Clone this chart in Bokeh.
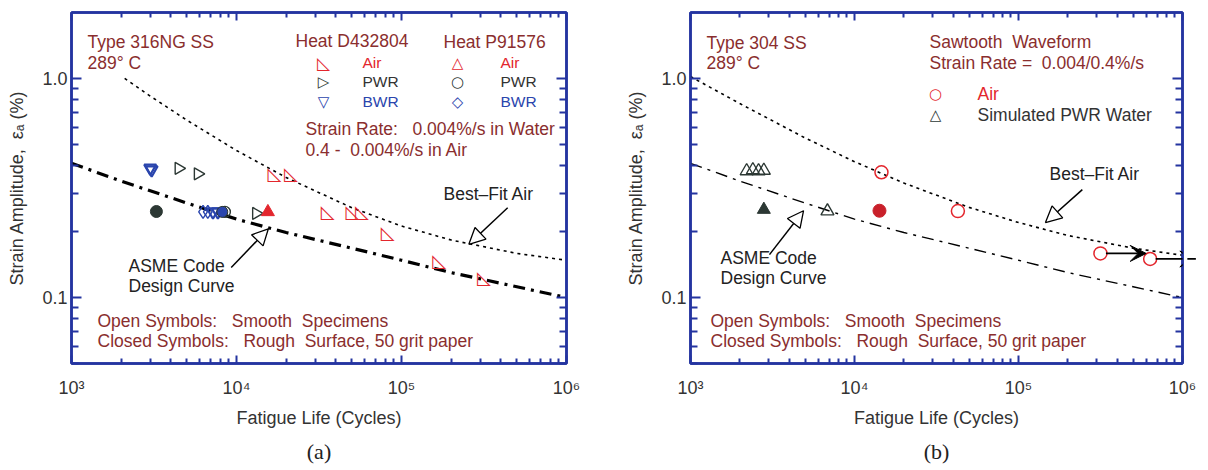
from bokeh.plotting import figure
from bokeh.models import (FixedTicker, LogAxis, Label, Arrow, NormalHead, VeeHead,
                          Range1d, ColumnDataSource, Title)
from bokeh.layouts import row
from bokeh.embed import file_html
from bokeh.resources import INLINE
from bokeh.core.properties import value

# ---------------- data ----------------
x_ticks = [1e3, 1e4, 1e5, 1e6]
x_tick_labels = ["10³", "10⁴", "10⁵", "10⁶"]
y_ticks = [0.1, 1.0]
y_tick_labels = ["0.1", "1.0"]

# ASME code design curve (same in both panels)
asme_N = [1000, 2000, 5000, 10000, 20000, 50000, 100000, 200000, 500000, 1000000]
asme_eps = [0.41, 0.34, 0.27, 0.228, 0.198, 0.168, 0.148, 0.130, 0.112, 0.100]

# Best-fit air curve, Type 316NG
fit316_N = [2100, 3000, 5000, 10000, 20000, 50000, 100000, 200000, 500000, 1000000]
fit316_eps = [1.0, 0.831, 0.645, 0.469, 0.353, 0.257, 0.212, 0.183, 0.159, 0.148]

# Best-fit air curve, Type 304
fit304_N = [1000, 2000, 5000, 10000, 20000, 50000, 100000, 200000, 500000, 1000000]
fit304_eps = [1.02, 0.768, 0.535, 0.417, 0.333, 0.258, 0.220, 0.192, 0.168, 0.156]

# Panel (a): Type 316NG SS
a_d_air_N = [17000, 21400, 35700, 50500, 57500, 82400, 169000, 316000]
a_d_air_eps = [0.367, 0.367, 0.247, 0.246, 0.246, 0.198, 0.147, 0.124]
a_d_pwr_N = [4460, 5830, 13150]
a_d_pwr_eps = [0.389, 0.367, 0.242]
a_d_bwr_N = [3000, 3060, 7200, 7710]
a_d_bwr_eps = [0.39, 0.383, 0.246, 0.246]
a_p_air_rough_N = [15500]
a_p_air_rough_eps = [0.246]
a_p_pwr_rough_N = [3270]
a_p_pwr_rough_eps = [0.247]
a_p_pwr_N = [8500]
a_p_pwr_eps = [0.246]
a_p_bwr_N = [6270, 6700]
a_p_bwr_eps = [0.246, 0.246]
a_p_bwr_rough_N = [8200]
a_p_bwr_rough_eps = [0.246]

# Panel (b): Type 304 SS
b_air_N = [14600, 42700, 316000, 635000]
b_air_eps = [0.373, 0.248, 0.159, 0.150]
b_air_rough_N = [14200]
b_air_rough_eps = [0.249]
b_pwr_N = [2200, 2400, 2600, 2800, 6840]
b_pwr_eps = [0.378, 0.382, 0.378, 0.380, 0.248]
b_pwr_rough_N = [2800]
b_pwr_rough_eps = [0.252]
b_runout_N = [316000, 635000]
b_runout_eps = [0.159, 0.150]

# ---------------- styles ----------------
FRAME_BLUE = "#2434a0"
TXT_RED = "#8a2e2e"
RED = "#e3262d"
DARK = "#2c3834"
MBLUE = "#2a45ad"
AXTXT = "#333333"
FONT = "Liberation Sans"
SYMF = "DejaVu Sans"
NB = "\u00a0"

H = 470
FR_A = dict(left=71, right=566, top=12, bottom=363, x0=0, w=604)
FR_B = dict(left=690, right=1182, top=12, bottom=363, x0=604, w=604)

x_minor = [k * t for t in (1e3, 1e4, 1e5) for k in range(2, 10)]
y_minor = [k * 0.01 for k in range(5, 10)] + [k * 0.1 for k in range(2, 10)]


def style_axis(ax, tin, min_in, show_labels):
    ax.axis_line_color = FRAME_BLUE
    ax.axis_line_width = 2.5
    ax.major_tick_line_color = FRAME_BLUE
    ax.major_tick_line_width = 2
    ax.minor_tick_line_color = FRAME_BLUE
    ax.minor_tick_line_width = 2
    ax.major_tick_in = tin
    ax.major_tick_out = 0
    ax.minor_tick_in = min_in
    ax.minor_tick_out = 0
    if show_labels:
        ax.major_label_text_font = FONT
        ax.major_label_text_font_size = "18px"
        ax.major_label_text_color = AXTXT
        ax.axis_label_text_font = FONT
        ax.axis_label_text_font_size = "18px"
        ax.axis_label_text_font_style = "normal"
        ax.axis_label_text_color = AXTXT
    else:
        ax.major_label_text_font_size = "1px"
        ax.major_label_text_alpha = 0
        ax.major_label_standoff = 0


def make_panel(fr, ylabel, caption, cap_offset):
    p = figure(width=fr["w"], height=H, x_axis_type="log", y_axis_type="log",
               x_range=Range1d(1e3, 1e6), y_range=Range1d(0.05, 2.0),
               output_backend="svg", toolbar_location=None,
               min_border_left=fr["left"] - fr["x0"],
               min_border_right=fr["x0"] + fr["w"] - fr["right"],
               min_border_top=fr["top"],
               min_border_bottom=H - fr["bottom"])
    p.grid.visible = False
    p.outline_line_color = FRAME_BLUE
    p.outline_line_width = 2.5
    xt = FixedTicker(ticks=x_ticks, minor_ticks=x_minor)
    yt = FixedTicker(ticks=y_ticks, minor_ticks=y_minor)
    xa = p.xaxis[0]
    ya = p.yaxis[0]
    xa.ticker = xt
    ya.ticker = yt
    xa.major_label_overrides = dict(zip(x_ticks, x_tick_labels))
    ya.major_label_overrides = dict(zip(y_ticks, y_tick_labels))
    style_axis(xa, 8, 5, True)
    style_axis(ya, 10, 7, True)
    xa.major_label_standoff = 14
    xa.axis_label_standoff = 7
    ya.major_label_standoff = 4
    ya.axis_label_standoff = 12
    xa.axis_label = "Fatigue Life (Cycles)"
    ya.axis_label = ylabel
    top = LogAxis(ticker=xt)
    right = LogAxis(ticker=yt)
    style_axis(top, 8, 5, False)
    style_axis(right, 10, 7, False)
    p.add_layout(top, "above")
    p.add_layout(right, "right")
    p.add_layout(Title(text=caption, align="center", offset=cap_offset, standoff=12,
                       text_font="Liberation Serif", text_font_size="22px",
                       text_font_style="normal", text_color="#222222"), "below")
    return p


def add_text(p, fr, px, py, text, color, size=17.5, font=FONT, align="left", style="normal"):
    p.add_layout(Label(x=px - fr["left"], y=fr["bottom"] - py, x_units="screen", y_units="screen",
                       text=text, text_color=color, text_font=font, text_font_size=f"{size}px",
                       text_align=align, text_baseline="middle", text_font_style=style))


def pointer(p, xs, ys, xe, ye):
    p.add_layout(Arrow(x_start=xs, y_start=ys, x_end=xe, y_end=ye, line_color="black", line_width=1.5,
                       end=NormalHead(size=16, fill_color="white", line_color="black", line_width=1.3)))


YLABEL = "Strain Amplitude," + NB + " εₐ (%)"
OPEN_TXT = "Open Symbols:" + NB + NB + " Smooth" + NB + " Specimens"
CLOSED_TXT = "Closed Symbols:" + NB + NB + " Rough" + NB + " Surface, 50 grit paper"

# ---------------- panel (a) ----------------
pa = make_panel(FR_A, YLABEL, "(a)", -7)
pa.line(fit316_N, fit316_eps, line_color="black", line_width=1.6, line_dash="3 4")
pa.line(asme_N, asme_eps, line_color="black", line_width=3.2, line_dash="12 6 3 6")

pa.text(a_d_air_N, a_d_air_eps, text=value("◺"), text_font=value(SYMF), text_font_size=value("18px"),
        text_color=RED, text_align="center", text_baseline="middle")
pa.scatter(a_d_pwr_N, a_d_pwr_eps, marker="triangle", angle=-1.5708, size=12, fill_color=None,
           line_color=DARK, line_width=1.4)
pa.scatter(a_d_bwr_N, a_d_bwr_eps, marker="inverted_triangle", size=12, fill_color=None,
           line_color=MBLUE, line_width=2.2)
pa.scatter(a_p_bwr_N, a_p_bwr_eps, marker="diamond", size=13, fill_color=None,
           line_color=MBLUE, line_width=1.4)
pa.scatter(a_p_pwr_N, a_p_pwr_eps, marker="circle", size=11, fill_color=None,
           line_color=DARK, line_width=1.4)
pa.scatter(a_p_bwr_rough_N, a_p_bwr_rough_eps, marker="circle", size=11, fill_color=MBLUE,
           line_color=DARK, line_width=1)
pa.scatter(a_p_pwr_rough_N, a_p_pwr_rough_eps, marker="circle", size=12, fill_color=DARK,
           line_color=DARK)
pa.scatter(a_p_air_rough_N, a_p_air_rough_eps, marker="triangle", size=13, fill_color=RED,
           line_color=RED)

add_text(pa, FR_A, 87, 41, "Type 316NG SS", TXT_RED)
add_text(pa, FR_A, 87, 62, "289° C", TXT_RED)
add_text(pa, FR_A, 295, 40, "Heat D432804", TXT_RED)
add_text(pa, FR_A, 443, 41, "Heat P91576", TXT_RED)
add_text(pa, FR_A, 323, 62, "◺", RED, 17, SYMF, "center")
add_text(pa, FR_A, 323, 81, "▷", DARK, 15, SYMF, "center")
add_text(pa, FR_A, 323, 101, "▽", MBLUE, 15, SYMF, "center", "bold")
add_text(pa, FR_A, 457, 62, "△", RED, 15, SYMF, "center")
add_text(pa, FR_A, 457, 81, "○", DARK, 15, SYMF, "center")
add_text(pa, FR_A, 457, 101, "◇", MBLUE, 15, SYMF, "center")
add_text(pa, FR_A, 362, 62, "Air", RED, 15.5)
add_text(pa, FR_A, 362, 81, "PWR", AXTXT, 15.5)
add_text(pa, FR_A, 362, 101, "BWR", MBLUE, 15.5)
add_text(pa, FR_A, 500, 62, "Air", RED, 15.5)
add_text(pa, FR_A, 500, 81, "PWR", AXTXT, 15.5)
add_text(pa, FR_A, 500, 101, "BWR", MBLUE, 15.5)
add_text(pa, FR_A, 305, 128, "Strain Rate:" + NB + NB + " 0.004%/s in Water", TXT_RED)
add_text(pa, FR_A, 305, 149, "0.4 -" + NB + " 0.004%/s in Air", TXT_RED)
add_text(pa, FR_A, 443, 193, "Best–Fit Air", "#222222")
add_text(pa, FR_A, 128, 265, "ASME Code", "#222222")
add_text(pa, FR_A, 128, 285, "Design Curve", "#222222")
add_text(pa, FR_A, 97, 320, OPEN_TXT, TXT_RED)
add_text(pa, FR_A, 97, 340, CLOSED_TXT, TXT_RED)
pointer(pa, 440000, 0.257, 256000, 0.175)
pointer(pa, 9290, 0.137, 15600, 0.206)

# ---------------- panel (b) ----------------
pb = make_panel(FR_B, YLABEL, "(b)", -18)
pb.line(fit304_N, fit304_eps, line_color="black", line_width=1.6, line_dash="3 4")
pb.line(asme_N, asme_eps, line_color="black", line_width=1.4, line_dash="12 6 3 6")

run_src = ColumnDataSource(dict(xs=[n * 1.08 for n in b_runout_N], ys=b_runout_eps,
                                xe=[n * 1.9 for n in b_runout_N], ye=b_runout_eps))
pb.add_layout(Arrow(source=run_src, x_start="xs", y_start="ys", x_end="xe", y_end="ye",
                    line_color="black", line_width=1.8,
                    end=VeeHead(size=16, fill_color="black", line_color="black")))

pb.scatter(b_pwr_N, b_pwr_eps, marker="triangle", size=13, fill_color=None, line_color=DARK, line_width=1.4)
pb.scatter(b_pwr_rough_N, b_pwr_rough_eps, marker="triangle", size=13, fill_color=DARK, line_color=DARK)
pb.scatter(b_air_N, b_air_eps, marker="circle", size=13, fill_color=None, line_color=RED, line_width=1.5)
pb.scatter(b_air_rough_N, b_air_rough_eps, marker="circle", size=13, fill_color="#c9202a", line_color="#c9202a")

add_text(pb, FR_B, 706, 42, "Type 304 SS", TXT_RED)
add_text(pb, FR_B, 706, 62, "289° C", TXT_RED)
add_text(pb, FR_B, 929, 41, "Sawtooth" + NB + " Waveform", TXT_RED)
add_text(pb, FR_B, 929, 62, "Strain Rate =" + NB + " 0.004/0.4%/s", TXT_RED)
add_text(pb, FR_B, 935, 93, "○", RED, 15, SYMF, "center")
add_text(pb, FR_B, 935, 114, "△", DARK, 15, SYMF, "center")
add_text(pb, FR_B, 977, 93, "Air", RED)
add_text(pb, FR_B, 977, 114, "Simulated PWR Water", AXTXT)
add_text(pb, FR_B, 1049, 173, "Best–Fit Air", "#222222")
add_text(pb, FR_B, 720, 257, "ASME Code", "#222222")
add_text(pb, FR_B, 720, 277, "Design Curve", "#222222")
add_text(pb, FR_B, 710, 320, OPEN_TXT, TXT_RED)
add_text(pb, FR_B, 710, 340, CLOSED_TXT, TXT_RED)
pointer(pb, 245000, 0.311, 146000, 0.220)
pointer(pb, 3030, 0.157, 4890, 0.249)

layout = row(pa, pb)
open("out.html", "w").write(file_html(layout, INLINE))
